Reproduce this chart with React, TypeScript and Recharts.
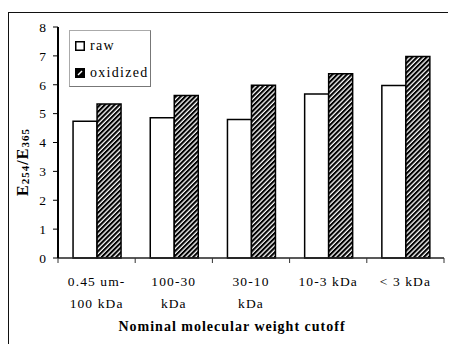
import React from 'react';
import { BarChart, Bar, XAxis, YAxis, Legend } from 'recharts';

const categories = ['0.45 um-100 kDa', '100-30 kDa', '30-10 kDa', '10-3 kDa', '< 3 kDa'];
const tickLabels: string[][] = [
  ['0.45 um-', '100 kDa'],
  ['100-30', 'kDa'],
  ['30-10', 'kDa'],
  ['10-3 kDa'],
  ['< 3 kDa'],
];
const rawValues = [4.74, 4.86, 4.8, 5.68, 5.97];
const oxidizedValues = [5.33, 5.63, 5.98, 6.38, 6.98];
const yTicks = [0, 1, 2, 3, 4, 5, 6, 7, 8];
const seriesKeys = ['raw', 'oxidized'];
const seriesNames = { raw: 'raw', oxidized: 'oxidized' };
const xTitle = 'Nominal molecular weight cutoff';

const data = categories.map((c, i) => ({
  name: c,
  raw: rawValues[i],
  oxidized: oxidizedValues[i],
}));

const FONT = "'Liberation Serif'";

function CategoryTick(props: any) {
  const { x, y, payload, index } = props;
  const i = categories.indexOf(payload.value);
  const lines = tickLabels[i] || [String(payload.value)];
  const half = payload.offset || 0;
  const isLast = (index ?? i) === categories.length - 1;
  return (
    <g>
      <line x1={x - half} y1={y} x2={x - half} y2={y + 5} stroke="#333" strokeWidth={1} />
      {isLast && <line x1={x + half} y1={y} x2={x + half} y2={y + 5} stroke="#333" strokeWidth={1} />}
      {lines.map((l, k) => (
        <text
          key={k}
          x={x}
          y={y + 28 + k * 21.5}
          textAnchor="middle"
          style={{ fontFamily: FONT }}
          fontSize={13.5}
          letterSpacing={1.1}
          fill="#000"
        >
          {l}
        </text>
      ))}
    </g>
  );
}

function XTitle(props: any) {
  const vb = props.viewBox || {};
  const cx = vb.x + vb.width / 2 - 19;
  return (
    <text
      x={cx}
      y={323}
      textAnchor="middle"
      style={{ fontFamily: FONT }}
      fontSize={14}
      fontWeight="bold"
      letterSpacing={1}
      fill="#000"
    >
      {xTitle}
    </text>
  );
}

function YTitle() {
  const cx = 14;
  const cy = 154;
  return (
    <text
      x={cx}
      y={cy}
      transform={`rotate(-90, ${cx}, ${cy})`}
      textAnchor="middle"
      dominantBaseline="central"
      style={{ fontFamily: FONT }}
      fontWeight="bold"
      fill="#000"
      letterSpacing={1}
    >
      <tspan fontSize={16}>E</tspan>
      <tspan fontSize={11} dy={3}>254</tspan>
      <tspan fontSize={16} dy={-3}>/E</tspan>
      <tspan fontSize={11} dy={3}>365</tspan>
    </text>
  );
}

function LegendContent(props: any) {
  const payload = [...(props.payload || [])].sort(
    (a: any, b: any) => seriesKeys.indexOf(a.dataKey) - seriesKeys.indexOf(b.dataKey)
  );
  return (
    <div
      style={{
        width: 82,
        height: 57,
        border: '1px solid #aaa',
        borderRightColor: '#777',
        borderBottomColor: '#777',
        background: '#fff',
        boxSizing: 'border-box',
        fontFamily: FONT,
        fontSize: 14,
        letterSpacing: 1.3,
        color: '#000',
        paddingTop: 3,
      }}
    >
      {payload.map((p: any, k: number) => (
        <div key={k} style={{ display: 'flex', alignItems: 'center', height: 24, marginTop: k === 0 ? 0 : 3, paddingLeft: 5 }}>
          <svg width={10} height={10} style={{ marginRight: 5, flex: 'none' }}>
            {p.dataKey === 'raw' ? (
              <rect x={0.75} y={0.75} width={8.5} height={8.5} fill="#fff" stroke="#000" strokeWidth={1.5} />
            ) : (
              <g>
                <rect x={0} y={0} width={10} height={10} fill="#000" />
                <line x1={3} y1={7} x2={7} y2={3} stroke="#fff" strokeWidth={1.5} />
              </g>
            )}
          </svg>
          <span>{p.value}</span>
        </div>
      ))}
    </div>
  );
}

export default function App() {
  return (
    <div style={{ position: 'relative', width: 448, height: 336, overflow: 'hidden', background: '#fff' }}>
      <div
        style={{
          position: 'absolute',
          top: 4,
          left: 0,
          width: 2000,
          height: 2000,
          borderTop: '1.5px solid #111',
          borderLeft: '1.5px solid #111',
        }}
      />
      <svg width={0} height={0} style={{ position: 'absolute' }}>
        <defs>
          <pattern id="hatch" patternUnits="userSpaceOnUse" width={3.4} height={3.4} patternTransform="rotate(45)">
            <rect x={0} y={0} width={3.4} height={3.4} fill="#fff" />
            <rect x={0} y={0} width={2.1} height={3.4} fill="#000" />
          </pattern>
        </defs>
      </svg>
      <div style={{ position: 'absolute', left: 0, top: 0 }}>
        <BarChart
          width={448}
          height={336}
          data={data}
          margin={{ top: 19, right: 12, bottom: 0, left: 0 }}
          barCategoryGap="19.5%"
          barGap={0}
        >
          <XAxis
            dataKey="name"
            height={86}
            interval={0}
            tickLine={false}
            tickSize={0}
            tickMargin={0}
            axisLine={{ stroke: '#222', strokeWidth: 1.5 }}
            tick={<CategoryTick />}
            label={<XTitle />}
          />
          <XAxis
            xAxisId="top"
            orientation="top"
            dataKey="name"
            height={0}
            tick={false}
            tickLine={false}
            axisLine={{ stroke: '#444', strokeWidth: 1.5 }}
          />
          <YAxis
            domain={[0, 8]}
            ticks={yTicks}
            width={50}
            tickSize={5}
            tickMargin={6}
            axisLine={{ stroke: '#000', strokeWidth: 2 }}
            tickLine={{ stroke: '#000' }}
            tick={{ fill: '#000', fontSize: 13.5, style: { fontFamily: FONT }, letterSpacing: 1 }}
            label={<YTitle />}
          />
          <YAxis
            yAxisId="right"
            orientation="right"
            domain={[0, 8]}
            width={0}
            tick={false}
            tickLine={false}
            axisLine={{ stroke: '#333', strokeWidth: 1.5 }}
          />
          <Legend
            layout="vertical"
            align="center"
            verticalAlign="middle"
            content={<LegendContent />}
            wrapperStyle={{ position: 'absolute', left: 61, top: 22, width: 82, height: 57, margin: 0 }}
          />
          <Bar dataKey="raw" name={seriesNames.raw} fill="#fff" stroke="#000" strokeWidth={1.5} isAnimationActive={false} />
          <Bar dataKey="oxidized" name={seriesNames.oxidized} fill="url(#hatch)" stroke="#000" strokeWidth={1.5} isAnimationActive={false} />
        </BarChart>
      </div>
    </div>
  );
}
